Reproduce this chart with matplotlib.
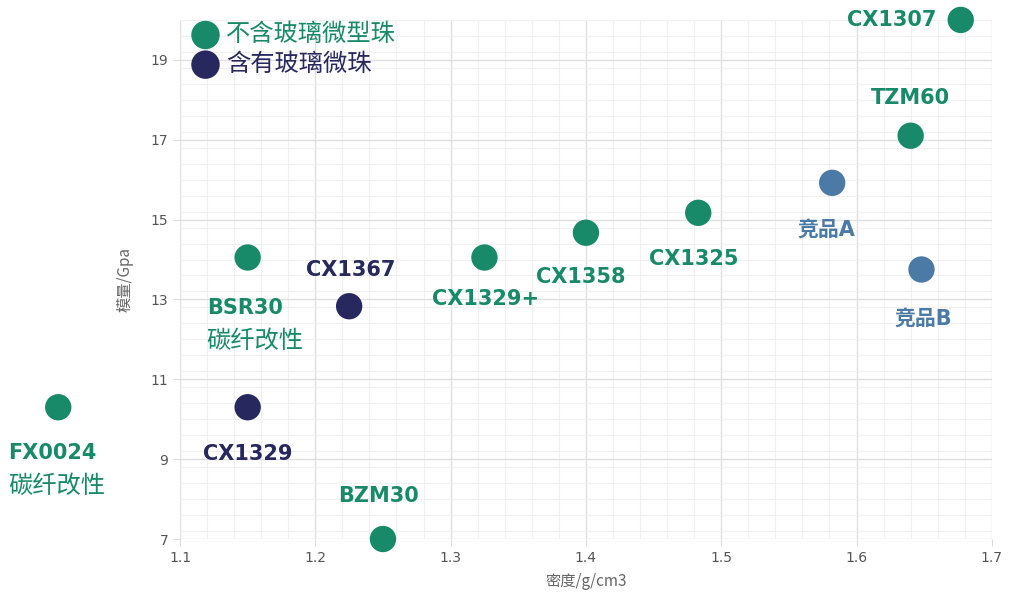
import matplotlib.pyplot as plt
from matplotlib.ticker import MultipleLocator

# data
names = ["FX0024", "CX1329", "BSR30", "CX1367", "BZM30", "CX1329+",
         "CX1358", "CX1325", "竞品A", "竞品B", "TZM60", "CX1307"]
density = [1.01, 1.15, 1.15, 1.225, 1.25, 1.325, 1.40, 1.483, 1.582, 1.648, 1.640, 1.677]
modulus = [10.3, 10.3, 14.05, 12.83, 7.0, 14.05, 14.67, 15.17, 15.92, 13.75, 17.1, 20.0]
group = ["g", "n", "g", "n", "g", "g", "g", "g", "b", "b", "g", "g"]
notes = ["碳纤改性", "", "碳纤改性", "", "", "", "", "", "", "", "", ""]

GREEN = "#188a6a"
NAVY = "#27285e"
STEEL = "#4a7aa5"
colors = {"g": GREEN, "n": NAVY, "b": STEEL}

# label placement (pixel offsets from the point, alignment)
place = {
    "FX0024": (-50, -46, "left"),
    "CX1329": (0, -47, "center"),
    "BSR30": (-41, -50, "left"),
    "CX1367": (2, 36, "center"),
    "BZM30": (-4, 43, "center"),
    "CX1329+": (1, -41, "center"),
    "CX1358": (-5, -44, "center"),
    "CX1325": (-4, -46, "center"),
    "竞品A": (-6, -47, "center"),
    "竞品B": (2, -49, "center"),
    "TZM60": (0, 38, "center"),
    "CX1307": (-24, 0, "right"),
}

plt.rcParams['font.family'] = ['DejaVu Sans', 'Noto Sans CJK SC']

fig = plt.figure(figsize=(10.09, 6.04), dpi=100)
ax = fig.add_axes([0.1784, 0.1076, 0.983 - 0.1784, 0.967 - 0.1076])

for x, y, g in zip(density, modulus, group):
    ax.scatter(x, y, s=360, color=colors[g], edgecolors="none", zorder=3, clip_on=False)

for n, x, y, g, note in zip(names, density, modulus, group, notes):
    dx, dy, ha = place[n]
    ax.annotate(n, (x, y), xytext=(dx, dy), textcoords="offset pixels",
                ha=ha, va="center", fontsize=15, fontweight="bold", color=colors[g],
                annotation_clip=False)
    if note:
        ax.annotate(note, (x, y), xytext=(dx, dy - 33), textcoords="offset pixels",
                    ha=ha, va="center", fontsize=17.5, color=colors[g],
                    family=['Noto Sans CJK SC'], annotation_clip=False)

ax.set_xlim(1.1, 1.7)
ax.set_ylim(7, 20)
ax.xaxis.set_major_locator(MultipleLocator(0.1))
ax.xaxis.set_minor_locator(MultipleLocator(0.02))
ax.yaxis.set_minor_locator(MultipleLocator(0.4))
ax.set_yticks([7, 9, 11, 13, 15, 17, 19])
ax.grid(which="major", color="#e0e0e0", linewidth=1)
ax.grid(which="minor", color="#f0f0f0", linewidth=0.8)
ax.set_axisbelow(True)
for s in ax.spines.values():
    s.set_visible(False)
ax.tick_params(which="major", length=5, color="#dcdcdc", labelsize=10, labelcolor="#555555")
ax.tick_params(which="minor", length=0)

ax.set_xlabel("密度/g/cm3", fontsize=11, color="#666666", family=['Noto Sans CJK SC'], labelpad=6)
ax.set_ylabel("模量/Gpa", fontsize=11, color="#666666", family=['Noto Sans CJK SC'], labelpad=12)

h1 = ax.scatter([], [], s=420, color=GREEN, edgecolors="none")
h2 = ax.scatter([], [], s=420, color=NAVY, edgecolors="none")
leg = ax.legend([h1, h2], ["不含玻璃微型珠", "含有玻璃微珠"], loc="upper left",
                bbox_to_anchor=(-0.012, 1.03), frameon=False, handletextpad=0.1,
                labelspacing=0.15, borderaxespad=0.3, handlelength=1.5,
                prop={"family": ['Noto Sans CJK SC'], "size": 17.5})
for t, c in zip(leg.get_texts(), [GREEN, NAVY]):
    t.set_color(c)

fig.savefig("out.png", dpi=100)
